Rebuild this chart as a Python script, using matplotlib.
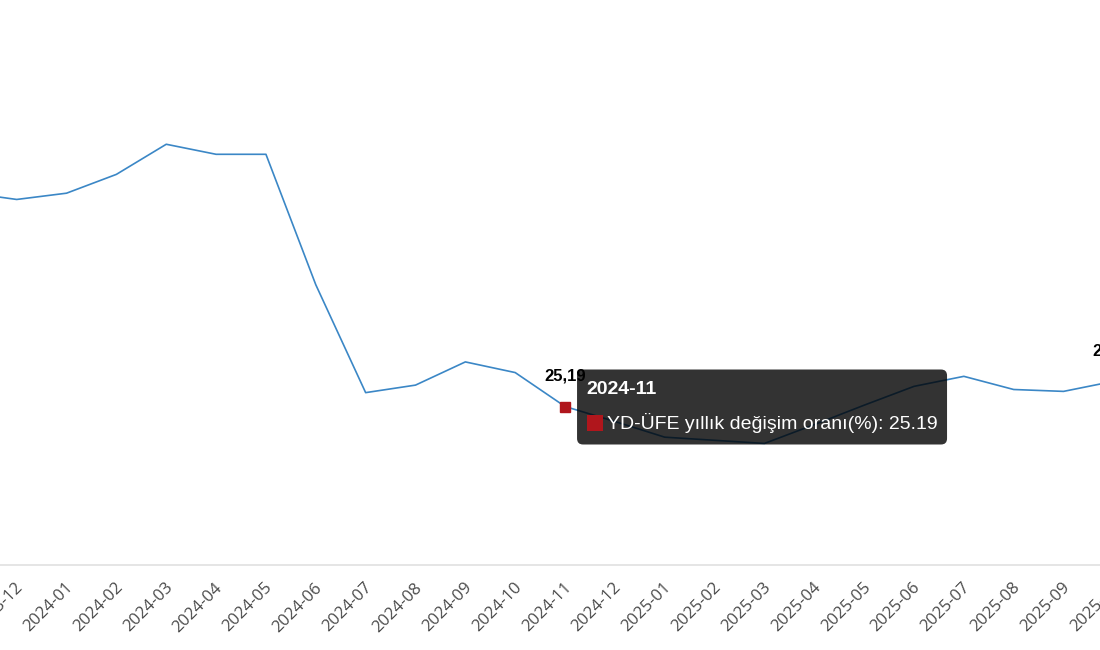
import matplotlib
matplotlib.use('Agg')
import matplotlib.pyplot as plt
from matplotlib.patches import FancyBboxPatch, Rectangle
import matplotlib.transforms as mtransforms

# ---- data ----
months = ['2023-11', '2023-12', '2024-01', '2024-02', '2024-03', '2024-04',
          '2024-05', '2024-06', '2024-07', '2024-08', '2024-09', '2024-10',
          '2024-11', '2024-12', '2025-01', '2025-02', '2025-03', '2025-04',
          '2025-05', '2025-06', '2025-07', '2025-08', '2025-09', '2025-10']
values = [59.3, 58.2, 59.2, 62.2, 67.0, 65.4,
          65.4, 44.6, 27.4, 28.6, 32.3, 30.6,
          25.19, 22.8, 20.3, 19.8, 19.3, 22.3,
          25.4, 28.4, 30.0, 27.9, 27.6, 29.2]
series_name = 'YD-ÜFE yıllık değişim oranı(%)'
hover_month = '2024-11'
labeled_months = ['2024-11', '2025-10']

LINE = '#3b87c6'
RED = '#b0161c'

W, H = 1100, 650
fig = plt.figure(figsize=(W / 100, H / 100), dpi=100)
fig.patch.set_facecolor('white')

# axes extends beyond the canvas on both sides (chart is scrolled/cropped)
ax_left_px, ax_right_px = -110, 1210
ax_bottom_px = 564.5
ax = fig.add_axes([ax_left_px / W, 1 - ax_bottom_px / H,
                   (ax_right_px - ax_left_px) / W, ax_bottom_px / H])
x = list(range(len(months)))
ax.plot(x, values, color=LINE, lw=1.2, zorder=3)

ax.set_xticks(x)
ax.set_xticklabels(months, rotation=45, ha='right', va='center',
                   rotation_mode='anchor', fontsize=12, color='#4a4a4a',
                   family='Open Sans')
ax.tick_params(axis='x', length=0, pad=15)
ax.set_yticks([])
ax.set_ylim(0, 90)
ax.set_xlim(-1.5416, 24.938)

offset = mtransforms.ScaledTranslation(4 / 100, 0, fig.dpi_scale_trans)
for lab in ax.get_xticklabels():
    lab.set_transform(lab.get_transform() + offset)

for s in ['top', 'left', 'right']:
    ax.spines[s].set_visible(False)
ax.spines['bottom'].set_color('#e0e0e0')
ax.spines['bottom'].set_linewidth(1.2)

# data labels
for m in labeled_months:
    i = months.index(m)
    ax.annotate(f"{values[i]:.2f}".replace('.', ','), (i, values[i]),
                xytext=(0, 22), textcoords='offset points', ha='center',
                va='center', fontweight='bold', fontsize=12,
                family='Liberation Sans', color='black',
                annotation_clip=False, zorder=4)

# hovered point
ih = months.index(hover_month)
vh = values[ih]
ax.plot([ih], [vh], marker='s', ms=7.5, color=RED, zorder=5, clip_on=False)

# tooltip (drawn in display pixels, anchored to the hovered point)
fig.canvas.draw()
px, py = ax.transData.transform((ih, vh))
ident = mtransforms.IdentityTransform()
box = FancyBboxPatch((px + 12, py - 38), 370, 75,
                     boxstyle='round,pad=0,rounding_size=6',
                     facecolor=(0, 0, 0, 0.8), edgecolor='none',
                     transform=ident, zorder=10)
fig.add_artist(box)
fig.add_artist(Rectangle((px + 22, py - 24), 16, 16, facecolor=RED,
                         edgecolor='none', transform=ident, zorder=11))
fig.text(px + 21, py + 17, hover_month, transform=ident, color='white',
         fontsize=14, fontweight='bold', family='Liberation Sans',
         ha='left', va='center', zorder=11)
fig.text(px + 42, py - 16, f"{series_name}: {vh}", transform=ident,
         color='white', fontsize=14, family='Liberation Sans',
         ha='left', va='center', zorder=11)

fig.savefig('out.png', dpi=100, facecolor='white')
